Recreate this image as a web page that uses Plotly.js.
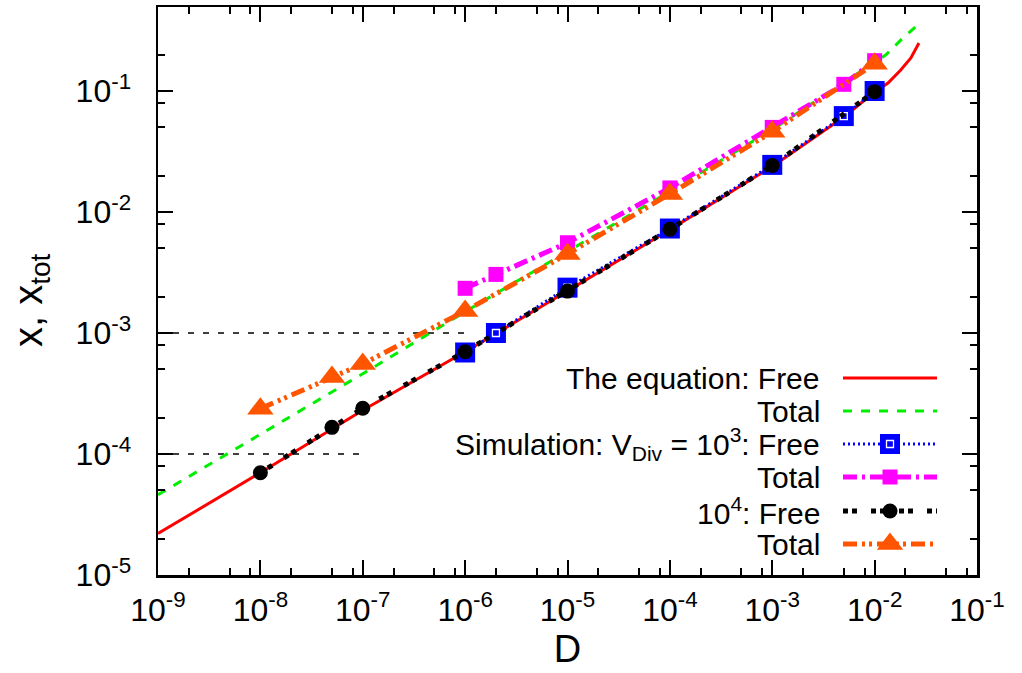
<!DOCTYPE html>
<html>
<head>
<meta charset="utf-8">
<script src="https://cdn.plot.ly/plotly-3.0.1.min.js"></script>
<style>html,body{margin:0;padding:0;background:#fff;}#chart{width:1022px;height:673px;}</style>
</head>
<body>
<div id="chart"></div>
<script>
// ---------------- data ----------------
// Equation curves
const eqFreeD  = [1e-9, 1e-8, 1e-7, 1e-6, 1e-5, 1e-4, 1e-3, 5e-3, 1e-2, 1.35e-2, 1.8e-2, 2.26e-2, 2.71e-2];
const eqFreeX  = [2.2e-5, 7.0e-5, 2.3e-4, 7.0e-4, 2.22e-3, 7.15e-3, 2.38e-2, 6.1e-2, 9.8e-2, 0.1164, 0.149, 0.1875, 0.249];
const eqTotD   = [1e-9, 1e-8, 1e-7, 1e-6, 1e-5, 1e-4, 1e-3, 1e-2, 1.29e-2, 1.93e-2, 2.71e-2];
const eqTotX   = [4.6e-5, 1.45e-4, 4.6e-4, 1.5e-3, 4.7e-3, 1.48e-2, 4.8e-2, 0.172, 0.199, 0.279, 0.358];
// Simulation V_Div = 10^3
const sim3D    = [1e-6, 2e-6, 1e-5, 1e-4, 1e-3, 5e-3, 1e-2];
const sim3Free = [6.9e-4, 1.0e-3, 2.37e-3, 7.3e-3, 2.45e-2, 6.2e-2, 0.100];
const sim3Tot  = [2.34e-3, 3.05e-3, 5.57e-3, 1.58e-2, 5.0e-2, 0.1135, 0.178];
// Simulation V_Div = 10^4
const sim4D    = [1e-8, 5e-8, 1e-7, 1e-6, 1e-5, 1e-4, 1e-3, 1e-2];
const sim4Free = [7.0e-5, 1.66e-4, 2.39e-4, 7.0e-4, 2.22e-3, 7.2e-3, 2.42e-2, 9.87e-2];
const sim4Tot  = [2.37e-4, 4.33e-4, 5.55e-4, 1.52e-3, 4.5e-3, 1.41e-2, 4.6e-2, 0.168];
// Horizontal guide lines
const guide1D = [1e-9, 1e-6], guide1X = [1e-3, 1e-3];
const guide2D = [1e-9, 1e-7], guide2X = [1e-4, 1e-4];
// Tick labels
const xTickVals = [1e-9, 1e-8, 1e-7, 1e-6, 1e-5, 1e-4, 1e-3, 1e-2, 1e-1];
const xTickText = ['10<sup>-9</sup>','10<sup>-8</sup>','10<sup>-7</sup>','10<sup>-6</sup>','10<sup>-5</sup>','10<sup>-4</sup>','10<sup>-3</sup>','10<sup>-2</sup>','10<sup>-1</sup>'];
const yTickVals = [1e-5, 1e-4, 1e-3, 1e-2, 1e-1];
const yTickText = ['10<sup>-5</sup>','10<sup>-4</sup>','10<sup>-3</sup>','10<sup>-2</sup>','10<sup>-1</sup>'];
const legendLabels = ['The equation: Free', 'Total', 'Simulation: V<sub>Div</sub> = 10<sup>3</sup>: Free', 'Total', '10<sup>4</sup>: Free', 'Total'];
const xTitle = 'D';
const yTitle = 'x, x<sub>tot</sub>';

// ---------------- styles ----------------
const FONT = 'Liberation Sans, Arial, Helvetica, sans-serif';
const ML = 158, MR = 45, MT = 7, MB = 98;
const PW = 1022 - ML - MR, PH = 673 - MT - MB;

function minorVals(lo, hi) {
  const v = [];
  for (let e = lo; e < hi; e++) for (const m of [2, 5, 8]) v.push(m * Math.pow(10, e));
  return v;
}

const S = {
  eqFree: {line: {color: '#ff0000', width: 3}},
  eqTot:  {line: {color: '#00ee00', width: 3, dash: '9px,9px'}},
  s3Free: {line: {color: '#0000ff', width: 3, dash: '2px,3px'}, marker: {symbol: 'square', size: 20, color: '#0000ff', line: {width: 0}}},
  s3Tot:  {line: {color: '#ff00ff', width: 5, dash: '14px,5px,3px,5px'}, marker: {symbol: 'square', size: 15, color: '#ff00ff', line: {width: 0}}},
  s4Free: {line: {color: '#000000', width: 5, dash: '5px,4px,5px,14px'}, marker: {symbol: 'circle', size: 15, color: '#000000', line: {width: 0}}},
  s4Tot:  {line: {color: '#ff5500', width: 5, dash: '14px,5px,3px,4px,3px,5px'}, marker: {symbol: 'triangle-up', size: 23, color: '#ff5500', line: {width: 0}}}
};
const innerSq = {symbol: 'square-open', size: 7, color: '#ffffff', line: {width: 1.3, color: '#ffffff'}};

const traces = [];
// guide lines
traces.push({x: guide1D, y: guide1X, mode: 'lines', line: {color: '#000', width: 1.5, dash: '6px,9px'}, showlegend: false, hoverinfo: 'skip'});
traces.push({x: guide2D, y: guide2X, mode: 'lines', line: {color: '#000', width: 1.5, dash: '6px,9px'}, showlegend: false, hoverinfo: 'skip'});
// data
traces.push({name: 'The equation: Free', x: eqFreeD, y: eqFreeX, mode: 'lines', line: S.eqFree.line, showlegend: false});
traces.push({name: 'The equation: Total', x: eqTotD, y: eqTotX, mode: 'lines', line: S.eqTot.line, showlegend: false});
traces.push({name: 'Simulation 10^3: Free', x: sim3D, y: sim3Free, mode: 'lines+markers', line: S.s3Free.line, marker: S.s3Free.marker, showlegend: false});
traces.push({x: sim3D, y: sim3Free, mode: 'markers', marker: innerSq, showlegend: false, hoverinfo: 'skip'});
traces.push({name: 'Simulation 10^3: Total', x: sim3D, y: sim3Tot, mode: 'lines+markers', line: S.s3Tot.line, marker: S.s3Tot.marker, showlegend: false});
traces.push({name: 'Simulation 10^4: Free', x: sim4D, y: sim4Free, mode: 'lines+markers', line: S.s4Free.line, marker: S.s4Free.marker, showlegend: false});
traces.push({name: 'Simulation 10^4: Total', x: sim4D, y: sim4Tot, mode: 'lines+markers', line: S.s4Tot.line, marker: S.s4Tot.marker, showlegend: false});

// ---------------- gnuplot-style key (text right, sample on the right) ----------------
const keyTextRight = 822, keySampleL = 843, keySampleR = 937;
const keyRows = [378, 411, 444, 477, 511, 544];
const keyStyles = [S.eqFree, S.eqTot, S.s3Free, S.s3Tot, S.s4Free, S.s4Tot];
const annotations = [];
keyRows.forEach((py, i) => {
  const yy = 575 - py;
  const st = keyStyles[i];
  traces.push({x: [keySampleL - ML, keySampleR - ML], y: [yy, yy], xaxis: 'x2', yaxis: 'y2', mode: 'lines', line: st.line, showlegend: false, hoverinfo: 'skip'});
  if (st.marker) {
    traces.push({x: [(keySampleL + keySampleR) / 2 - ML], y: [yy], xaxis: 'x2', yaxis: 'y2', mode: 'markers', marker: st.marker, showlegend: false, hoverinfo: 'skip'});
    if (i === 2) traces.push({x: [(keySampleL + keySampleR) / 2 - ML], y: [yy], xaxis: 'x2', yaxis: 'y2', mode: 'markers', marker: innerSq, showlegend: false, hoverinfo: 'skip'});
  }
  annotations.push({text: legendLabels[i], xref: 'x2', yref: 'y2', x: keyTextRight - ML, y: yy, xanchor: 'right', yanchor: 'middle', showarrow: false, font: {family: FONT, size: 30, color: '#000'}});
});
// y-axis title (rotated), centred on the plot height
annotations.push({text: yTitle, xref: 'paper', yref: 'paper', x: (31 - ML) / PW, y: (575 - 300) / PH, xanchor: 'center', yanchor: 'middle', textangle: -90, showarrow: false, font: {family: FONT, size: 40, color: '#000'}});

const axisCommon = {
  type: 'log', showline: true, linecolor: '#000', linewidth: 2.5, mirror: 'ticks',
  ticks: 'inside', ticklen: 15, tickwidth: 2, tickcolor: '#000', showgrid: false, zeroline: false,
  tickmode: 'array', tickfont: {family: FONT, size: 32, color: '#000'}
};

const layout = {
  width: 1022, height: 673,
  margin: {l: ML, r: MR, t: MT, b: MB, pad: 0},
  paper_bgcolor: '#fff', plot_bgcolor: '#fff',
  showlegend: false,
  font: {family: FONT, color: '#000'},
  xaxis: Object.assign({}, axisCommon, {
    range: [-9, -1], tickvals: xTickVals, ticktext: xTickText, ticklabelstandoff: 5,
    minor: {tickmode: 'array', tickvals: minorVals(-9, -1), ticks: 'inside', ticklen: 7, tickwidth: 2, tickcolor: '#000'},
    title: {text: xTitle, font: {family: FONT, size: 38, color: '#000'}, standoff: 8}
  }),
  yaxis: Object.assign({}, axisCommon, {
    range: [-5, -0.306], tickvals: yTickVals, ticktext: yTickText, ticklabelstandoff: 18,
    minor: {tickmode: 'array', tickvals: minorVals(-5, 0), ticks: 'inside', ticklen: 7, tickwidth: 2, tickcolor: '#000'}
  }),
  xaxis2: {overlaying: 'x', range: [0, PW], visible: false, fixedrange: true},
  yaxis2: {overlaying: 'y', range: [0, PH], visible: false, fixedrange: true},
  annotations: annotations
};

Plotly.newPlot('chart', traces, layout, {staticPlot: true, displayModeBar: false});
</script>
</body>
</html>
